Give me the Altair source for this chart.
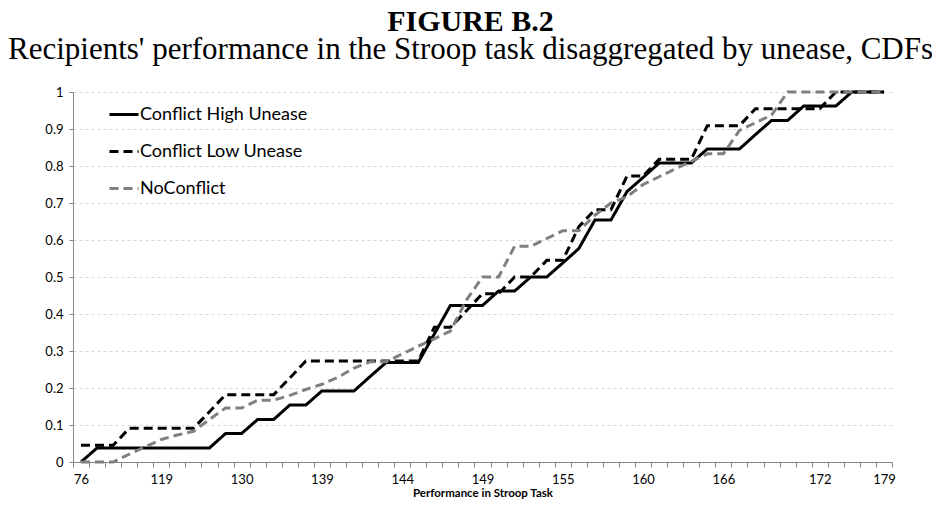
import altair as alt
import pandas as pd

series_names = ["Conflict High Unease", "Conflict Low Unease", "NoConflict"]

# category positions (index along the category axis)
n_cat = 51
tick_idx = [0, 5, 10, 15, 20, 25, 30, 35, 40, 46, 50]
tick_lab = ["76", "119", "130", "139", "144", "149", "155", "160", "166", "172", "179"]

high = [0, 0.038, 0.038, 0.038, 0.038, 0.038, 0.038, 0.038, 0.038, 0.077, 0.077,
        0.115, 0.115, 0.154, 0.154, 0.192, 0.192, 0.192, 0.231, 0.269, 0.269, 0.269,
        0.346, 0.423, 0.423, 0.423, 0.462, 0.462, 0.5, 0.5, 0.538, 0.577, 0.654, 0.654,
        0.731, 0.769, 0.808, 0.808, 0.808, 0.846, 0.846, 0.846, 0.885, 0.923, 0.923,
        0.962, 0.962, 0.962, 1, 1, 1]

low = [0.045, 0.045, 0.045, 0.091, 0.091, 0.091, 0.091, 0.091, 0.136, 0.182, 0.182,
       0.182, 0.182, 0.227, 0.273, 0.273, 0.273, 0.273, 0.273, 0.273, 0.273, 0.273,
       0.364, 0.364, 0.409, 0.455, 0.455, 0.5, 0.5, 0.545, 0.545, 0.636, 0.682, 0.682,
       0.773, 0.773, 0.818, 0.818, 0.818, 0.909, 0.909, 0.909, 0.955, 0.955, 0.955,
       0.955, 0.955, 1, 1, 1, 1]

noconf = [0, 0, 0, 0.021, 0.041, 0.061, 0.073, 0.083, 0.115, 0.146, 0.146,
          0.167, 0.167, 0.18, 0.196, 0.21, 0.229, 0.254, 0.271, 0.271, 0.292, 0.313,
          0.333, 0.354, 0.4375, 0.5, 0.5, 0.583, 0.583, 0.604, 0.625, 0.625, 0.667, 0.70,
          0.717, 0.75, 0.771, 0.792, 0.8125, 0.833, 0.833, 0.896, 0.917, 0.9375, 1,
          1, 1, 1, 1, 1, 1]

y_ticks = [0, 0.1, 0.2, 0.3, 0.4, 0.5, 0.6, 0.7, 0.8, 0.9, 1]

rows = []
for name, vals in zip(series_names, [high, low, noconf]):
    for i, v in enumerate(vals):
        rows.append({"series": name, "idx": i, "value": v})
df = pd.DataFrame(rows)

label_expr = "".join(
    f"datum.value === {i} ? '{l}' : " for i, l in zip(tick_idx, tick_lab)
) + "''"
x_values = sorted([k - 0.5 for k in range(n_cat + 1)] + tick_idx)

FONT = "Lato"
AX = "#868686"

x = alt.X(
    "idx:Q",
    scale=alt.Scale(domain=[-0.5, n_cat - 0.5], nice=False, zero=False),
    axis=alt.Axis(
        values=x_values, labelExpr=label_expr, labelOverlap=False,
        labelFlush=False, labelBound=False, grid=False,
        tickSize=5, tickColor=AX,
        tickOpacity={"condition": {"test": "datum.value % 1 !== 0", "value": 1}, "value": 0},
        domainColor=AX, labelFont=FONT, labelFontSize=13, labelColor="#000",
        labelPadding=6, title="Performance in Stroop Task", titleFont=FONT,
        titleFontSize=11.5, titleFontWeight="bold", titlePadding=1, titleColor="#000",
    ),
)
y = alt.Y(
    "value:Q",
    scale=alt.Scale(domain=[0, 1], nice=False),
    axis=alt.Axis(
        values=y_ticks, format=".1~f", grid=True, gridColor="#d9d9d9",
        gridDash=[3, 3], domainColor=AX, tickColor=AX, tickSize=4,
        labelFont=FONT, labelFontSize=13, labelColor="#000", labelPadding=6, title=None,
    ),
)

leg = alt.Legend(
    orient="none", legendX=35, legendY=6.5, symbolType="stroke", symbolSize=841,
    symbolStrokeWidth=3, labelFont=FONT, labelFontSize=18, labelColor="#000",
    labelLimit=0, rowPadding=12, labelOffset=0, padding=0, title=None,
)
color = alt.Color("series:N", scale=alt.Scale(domain=series_names,
                  range=["#000000", "#000000", "#808080"]), legend=leg, title=None)
dash = alt.StrokeDash("series:N", scale=alt.Scale(domain=series_names,
                      range=[[1, 0], [9, 5], [9, 5]]), legend=leg, title=None)

base = alt.Chart(df).mark_line(strokeWidth=3).encode(x=x, y=y, color=color, strokeDash=dash)
layers = [base.transform_filter(alt.datum.series == n) for n in series_names]

chart = alt.layer(*layers).properties(
    width=819, height=370,
    padding={"left": 65, "top": 84, "right": 40, "bottom": 38},
    autosize=alt.AutoSizeParams(type="none"),
    title=alt.TitleParams(
        text="FIGURE B.2",
        subtitle="Recipients' performance in the Stroop task disaggregated by unease, CDFs",
        font="Liberation Serif", fontSize=30, fontWeight="bold", color="#000",
        subtitleFont="Liberation Serif", subtitleFontSize=31, subtitleColor="#000",
        subtitlePadding=-2, anchor="middle", dx=-12, offset=21,
    ),
).configure_view(stroke=None)

chart.save("out.html", embed_options={"renderer": "svg", "actions": False})
